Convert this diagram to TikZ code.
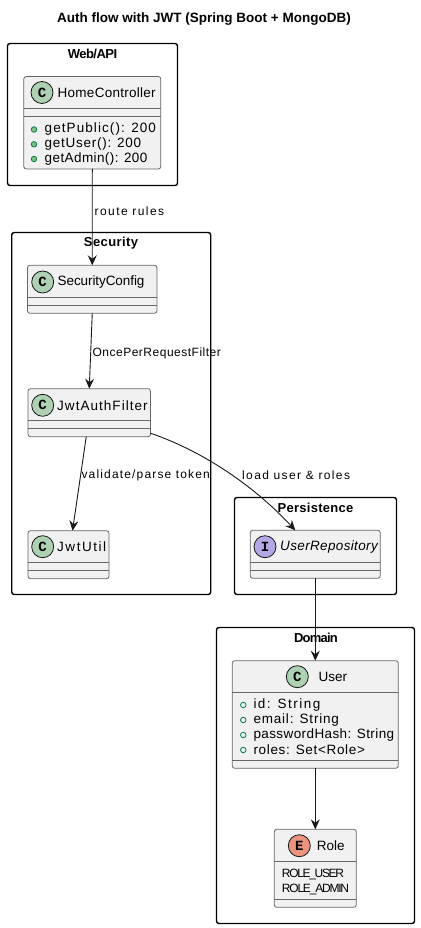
\documentclass[tikz,border=0pt]{standalone}
\usepackage{fontspec}
\setmainfont{Liberation Sans}
\setmonofont{Liberation Mono}
\newcommand{\spaced}[2]{{\addfontfeature{LetterSpace=#1}#2}}
\usetikzlibrary{arrows.meta,calc,positioning}
\definecolor{linecol}{HTML}{181818}
\definecolor{boxfill}{HTML}{F1F1F1}
\definecolor{classcol}{HTML}{ADD1B2}
\definecolor{faceol}{HTML}{B4A7E5}
\definecolor{enumcol}{HTML}{EB937F}
\definecolor{dotline}{HTML}{038048}
\definecolor{dotfill}{HTML}{84BE84}
\tikzset{>={Stealth[length=10pt,width=9pt,inset=3.5pt]}}
\tikzset{
  groupbox/.style={draw=black,line width=1.4pt,rounded corners=2.5pt,anchor=north west,inner sep=0pt,outer sep=0pt},
  classbox/.style={draw=black!60,fill=boxfill,line width=0.8pt,rounded corners=2.5pt,anchor=north west,inner sep=0pt,outer sep=0pt},
  divider/.style={draw=black!60,line width=0.8pt},
  badge/.style={circle,draw=linecol,line width=0.8pt,minimum size=22pt,inner sep=0pt,font=\fontsize{14}{14}\bfseries\ttfamily},
  classname/.style={anchor=west,inner sep=0pt,font=\fontsize{13.5}{15}\selectfont},
  member/.style={anchor=west,inner sep=0pt,font=\fontsize{13.5}{15}\selectfont},
  literal/.style={anchor=west,inner sep=0pt,font=\fontsize{12}{15}\selectfont},
  grouptitle/.style={inner sep=0pt,font=\fontsize{13}{15}\bfseries},
  linklabel/.style={anchor=west,inner sep=0pt,font=\fontsize{12}{14}\selectfont},
  link/.style={->,draw=linecol,line width=0.9pt},
  pubdot/.style={circle,draw=dotline,fill=dotfill,line width=0.8pt,minimum size=5.5pt,inner sep=0pt},
  opendot/.style={circle,draw=dotline,line width=0.8pt,minimum size=5.5pt,inner sep=0pt}
}
\begin{document}
\begin{tikzpicture}[x=1pt,y=-1pt]
  \useasboundingbox (0,0) rectangle (420,928);
  \node[inner sep=0pt,font=\fontsize{13.5}{15}\bfseries] (title) at (204,19) {Auth flow with JWT (Spring Boot + MongoDB)};

  % groups
  \node[groupbox,minimum width=170pt,minimum height=142pt] (webgroup) at (7.5,43.5) {};
  \node[groupbox,minimum width=199pt,minimum height=362pt] (secgroup) at (11.7,232.5) {};
  \node[groupbox,minimum width=162pt,minimum height=97pt] (pergroup) at (234.5,497.5) {};
  \node[groupbox,minimum width=198pt,minimum height=296pt] (domgroup) at (216.5,627.5) {};
  \node[grouptitle] (webtitle) at (92.5,54) {\spaced{-4}{Web/API}};
  \node[grouptitle] (sectitle) at (111,243.5) {\spaced{3}{Security}};
  \node[grouptitle] (pertitle) at (315.5,508) {\spaced{2}{Persistence}};
  \node[grouptitle] (domtitle) at (316,638) {\spaced{-6}{Domain}};

  % classes
  \node[classbox,minimum width=137pt,minimum height=92.5pt] (home) at (23.8,76.5) {};
  \node[classbox,minimum width=129.5pt,minimum height=48pt] (secconf) at (27.5,265.3) {};
  \node[classbox,minimum width=122.5pt,minimum height=48pt] (filter) at (28,388.7) {};
  \node[classbox,minimum width=81pt,minimum height=48pt] (util) at (28,530.7) {};
  \node[classbox,minimum width=130pt,minimum height=48pt] (repo) at (250.3,530.3) {};
  \node[classbox,minimum width=166pt,minimum height=107.6pt] (user) at (232.3,660.7) {};
  \node[classbox,minimum width=82pt,minimum height=78pt] (role) at (274.3,829.3) {};

  \foreach \name/\a/\b in {home/32/39.5,secconf/32/40,filter/32/40,util/32/40,repo/32/40,user/31.6/99.6,role/32/70}
    {
      \draw[divider] ($(\name.north west)+(0,\a)$) -- ($(\name.north east)+(0,\a)$);
      \draw[divider] ($(\name.north west)+(0,\b)$) -- ($(\name.north east)+(0,\b)$);
    }

  \node[badge,fill=classcol] (homeC) at (42,92.5) {C};
  \node[badge,fill=classcol] (secconfC) at (42.7,282) {C};
  \node[badge,fill=classcol] (filterC) at (42.7,405.3) {C};
  \node[badge,fill=classcol] (utilC) at (42.7,546.7) {C};
  \node[badge,fill=faceol] (repoI) at (265,546.7) {I};
  \node[badge,fill=classcol] (userC) at (297.3,676.7) {C};
  \node[badge,fill=enumcol] (roleE) at (299.3,845.7) {E};

  \node[classname] (homename) at (57.5,93) {\spaced{2}{HomeController}};
  \node[classname] (secconfname) at (57.5,282.5) {\spaced{-0.6}{SecurityConfig}};
  \node[classname] (filtername) at (57,405.5) {\spaced{7.7}{JwtAuthFilter}};
  \node[classname] (utilname) at (57,547) {\spaced{11.5}{JwtUtil}};
  \node[classname,font=\fontsize{13.5}{15}\itshape] (reponame) at (280,547) {\spaced{2.6}{UserRepository}};
  \node[classname] (username) at (318.3,677) {User};
  \node[classname] (rolename) at (316.7,846) {Role};

  % members
  \foreach \i/\y/\ls/\t in {1/129.5/8/getPublic(): 200,2/144.3/5.4/getUser(): 200,3/159/3/getAdmin(): 200}
    {
      \node[pubdot] (homedot\i) at (34,\y) {};
      \node[member] (homemember\i) at (44.5,\y) {\spaced{\ls}{\t}};
    }
  \foreach \i/\y/\ls/\t in {1/705/11/id: String,2/720/6/email: String,3/735/3/passwordHash: String,4/750/5/roles: Set<Role>}
    {
      \node[opendot] (userdot\i) at (243.3,\y) {};
      \node[member] (usermember\i) at (253.3,\y) {\spaced{\ls}{\t}};
    }
  \node[literal] (roleuser) at (281.7,874) {\spaced{-11}{ROLE\_USER}};
  \node[literal] (roleadmin) at (281.7,889) {\spaced{-10}{ROLE\_ADMIN}};

  % links
  \draw[link] (home.south) -- (secconf.north) node[pos=0.44,linklabel,xshift=2pt] (routelabel) {\spaced{11.8}{route rules}};
  \draw[link] (secconf.south) -- (filter.north) node[pos=0.53,linklabel,xshift=1.5pt] (oncelabel) {\spaced{4.2}{OncePerRequestFilter}};
  \draw[link] ([xshift=-3pt]filter.south) -- ([xshift=4pt]util.north) node[pos=0.41,linklabel,xshift=0.5pt] (validlabel) {\spaced{9.7}{validate/parse token}};
  \draw[link] ([yshift=3.5pt]filter.south east) .. controls (205,452) and (255,487) .. ([xshift=-20pt]repo.north);
  \node[linklabel] (loadlabel) at (242,475) {\spaced{11.4}{load user \& roles}};
  \draw[link] (repo.south) -- (user.north);
  \draw[link] (user.south) -- (role.north);
\end{tikzpicture}
\end{document}
